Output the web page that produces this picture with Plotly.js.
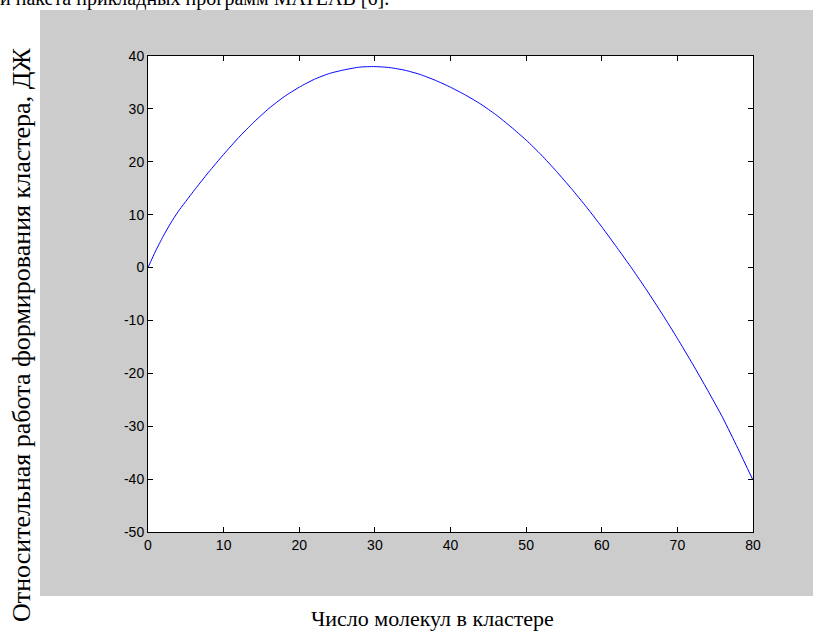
<!DOCTYPE html>
<html>
<head>
<meta charset="utf-8">
<script src="https://cdn.plot.ly/plotly-3.0.1.min.js"></script>
<style>html,body{margin:0;padding:0;background:#fff;}#chart{width:813px;height:637px;}</style>
</head>
<body>
<div id="chart"></div>
<script>
// Число молекул в кластере (x) and relative work of cluster formation (y)
const nMolecules = [0, 1, 2, 3, 4, 6, 8, 10, 12, 14, 16, 18, 20, 22, 24, 26, 28, 30, 32, 34, 36, 38, 40,
  42, 44, 46, 48, 50, 52, 54, 56, 58, 60, 62, 64, 66, 68, 70, 72, 74, 76, 78, 80];
const workValues = [0, 3.1, 5.9, 8.4, 10.6, 14.4, 18.0, 21.4, 24.6, 27.5, 30.1, 32.3, 34.1, 35.6, 36.7, 37.4, 37.9, 38.0,
  37.8, 37.3, 36.5, 35.4, 34.1, 32.6, 30.9, 28.9, 26.6, 24.1, 21.3, 18.2, 14.9, 11.4, 7.7, 3.8, -0.2, -4.4,
  -8.8, -13.4, -18.2, -23.2, -28.4, -34.2, -40.2];
const xTickVals = [0, 10, 20, 30, 40, 50, 60, 70, 80];
const xTickText = ["0", "10", "20", "30", "40", "50", "60", "70", "80"];
const yTickVals = [-50, -40, -30, -20, -10, 0, 10, 20, 30, 40];
const yTickText = ["-50", "-40", "-30", "-20", "-10", "0", "10", "20", "30", "40"];
const xLabel = "Число молекул в кластере";
const yLabel = "Относительная работа формирования кластера, ДЖ";
const topText = "и пакета прикладных программ MATLAB [6].";

const W = 813, H = 637;
const L = 148, R = 753, T = 56, B = 532;
const px = v => (v - L) / (R - L);
const py = v => (B - v) / (B - T);

const tickFont = {family: "Liberation Sans, Arial, sans-serif", size: 14, color: "#000"};
const serifFam = "Liberation Serif, Times New Roman, serif";

const axisCommon = {
  showline: true, linecolor: "#000", linewidth: 1, mirror: "ticks",
  ticks: "inside", ticklen: 5, tickwidth: 1, tickcolor: "#000",
  showgrid: false, zeroline: false, tickfont: tickFont, tickmode: "array", fixedrange: true
};

Plotly.newPlot("chart", [{
  x: nMolecules, y: workValues, type: "scatter", mode: "lines",
  line: {color: "rgb(0,0,255)", width: 1, shape: "spline", smoothing: 0.6}, hoverinfo: "skip"
}], {
  width: W, height: H,
  margin: {l: L, r: W - R, t: T, b: H - B, pad: 0},
  paper_bgcolor: "#fff", plot_bgcolor: "#fff",
  showlegend: false,
  xaxis: Object.assign({}, axisCommon, {range: [0, 80], tickvals: xTickVals, ticktext: xTickText}),
  yaxis: Object.assign({}, axisCommon, {range: [-50, 40], tickvals: yTickVals, ticktext: yTickText}),
  shapes: [
    {type: "rect", xref: "paper", yref: "paper", layer: "below",
     x0: px(40), x1: px(813), y0: py(596), y1: py(10),
     fillcolor: "#cccccc", line: {width: 0}},
    {type: "rect", xref: "paper", yref: "paper", layer: "below",
     x0: 0, x1: 1, y0: 0, y1: 1, fillcolor: "#ffffff", line: {width: 0}}
  ],
  annotations: [
    {text: yLabel, xref: "paper", yref: "paper", x: px(21), y: py(335),
     xanchor: "center", yanchor: "middle", textangle: -90, showarrow: false,
     font: {family: serifFam, size: 26, color: "#000"}},
    {text: xLabel, xref: "paper", yref: "paper", x: px(432), y: py(618),
     xanchor: "center", yanchor: "middle", showarrow: false,
     font: {family: serifFam, size: 22, color: "#000"}},
    {text: topText, xref: "paper", yref: "paper", x: px(-2), y: py(12),
     xanchor: "left", yanchor: "bottom", showarrow: false,
     font: {family: serifFam, size: 20, color: "#000"}}
  ]
}, {displayModeBar: false, staticPlot: true});
</script>
</body>
</html>
